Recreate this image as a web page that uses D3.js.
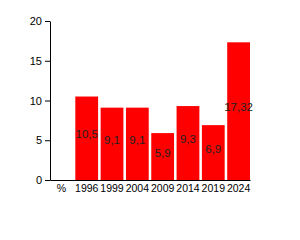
<!DOCTYPE html>
<html>
<head>
<meta charset="utf-8">
<script src="https://cdn.jsdelivr.net/npm/d3@7"></script>
<style>
body { margin: 0; background: #fff; }
text { font-family: "Liberation Sans Narrow", "Liberation Sans", Arial, sans-serif; }
</style>
</head>
<body>
<svg width="300" height="240"></svg>
<script>
var svg = d3.select('svg');
var fontFam = '"Liberation Sans Narrow", "Liberation Sans", Arial, sans-serif';

// data
var categories = ["%", "1996", "1999", "2004", "2009", "2014", "2019", "2024"];
var values = [null, 10.5, 9.1, 9.1, 5.9, 9.3, 6.9, 17.32];
var labels = ["", "10,5", "9,1", "9,1", "5,9", "9,3", "6,9", "17,32"];
var yTicks = [0, 5, 10, 15, 20];

var x = d3.scaleBand()
    .domain(categories)
    .range([50, 250])
    .paddingInner(0.1)
    .paddingOuter(0);

var y = d3.scaleLinear()
    .domain([0, 20])
    .range([180, 21]);

var rows = categories.map(function (c, i) {
    return {cat: c, v: values[i], label: labels[i]};
}).filter(function (d) { return d.v !== null; });

svg.selectAll('rect.bar')
    .data(rows)
    .enter()
    .append('rect')
    .attr('class', 'bar')
    .attr('x', function (d) { return x(d.cat); })
    .attr('y', function (d) { return y(d.v); })
    .attr('width', x.bandwidth())
    .attr('height', function (d) { return y(0) - y(d.v); })
    .attr('fill', '#ff0000');

svg.selectAll('text.val')
    .data(rows)
    .enter()
    .append('text')
    .attr('class', 'val')
    .attr('x', function (d) { return x(d.cat) + x.bandwidth() / 2; })
    .attr('y', function (d) { return (y(d.v) + y(0)) / 2; })
    .attr('text-anchor', 'middle')
    .attr('font-size', '11.5px')
    .attr('fill', '#222')
    .text(function (d) { return d.label; });

// y axis
var yAxis = svg.append('g')
    .attr('transform', 'translate(50,0)')
    .call(d3.axisLeft(y).tickValues(yTicks).tickSize(5).tickSizeOuter(0));
yAxis.selectAll('text').attr('font-size', '11px').attr('fill', '#000').style('font-family', fontFam);
yAxis.selectAll('line, path').attr('stroke', '#000');

// x axis
var xAxis = svg.append('g')
    .attr('transform', 'translate(0,180)')
    .call(d3.axisBottom(x).tickSize(0).tickPadding(5));
xAxis.selectAll('text').attr('font-size', '10.5px').attr('fill', '#000').style('font-family', fontFam);
xAxis.select('path').attr('stroke', '#000');
</script>
</body>
</html>
